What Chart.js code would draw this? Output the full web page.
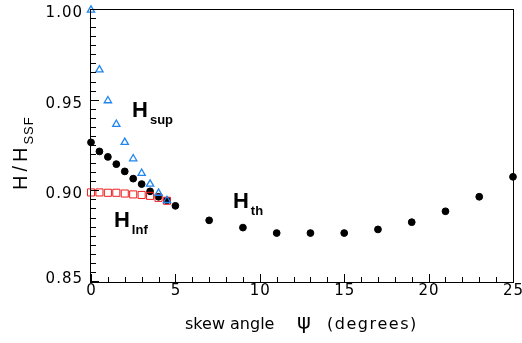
<!DOCTYPE html>
<html>
<head>
<meta charset="utf-8">
<script src="https://cdn.jsdelivr.net/npm/chart.js@4/dist/chart.umd.min.js"></script>
<style>
  html, body { margin: 0; padding: 0; background: #fff; }
  #wrap { position: relative; width: 522px; height: 343px; }
  #frame { position: absolute; border: 1px solid #000; box-sizing: border-box; pointer-events: none; }
</style>
</head>
<body>
<div id="wrap">
  <canvas id="chart" width="522" height="343"></canvas>
  <div id="frame"></div>
</div>
<script>
// skew angle (degrees) and H/H_SSF
const thAngles = [0, 0.5, 1, 1.5, 2, 2.5, 3, 3.5, 4, 4.5, 5, 7, 9, 11, 13, 15, 17, 19, 21, 23, 25];
const thValues = [0.927, 0.922, 0.919, 0.915, 0.911, 0.907, 0.904, 0.900, 0.897, 0.895, 0.892,
                  0.884, 0.880, 0.877, 0.877, 0.877, 0.879, 0.883, 0.889, 0.897, 0.908];
const supAngles = [0, 0.5, 1, 1.5, 2, 2.5, 3, 3.5, 4, 4.5];
const supValues = [1.000, 0.967, 0.950, 0.937, 0.927, 0.918, 0.910, 0.904, 0.899, 0.895];
const infAngles = [0, 0.5, 1, 1.5, 2, 2.5, 3, 3.5, 4, 4.5];
const infValues = [0.8994, 0.8994, 0.8992, 0.8992, 0.8988, 0.8983, 0.8980, 0.8975, 0.8964, 0.8948];
const xTicks = [0, 5, 10, 15, 20, 25];
const yTicks = [0.85, 0.90, 0.95, 1.00];
const xMinorStep = 1;
const yMinorStep = 0.005;

const toPoints = (xs, ys) => xs.map((x, i) => ({ x, y: ys[i] }));

function spacedWidth(ctx, str, gap) {
  let w = 0;
  for (const ch of str) w += ctx.measureText(ch).width + gap;
  return w - gap;
}
function spaced(ctx, str, x, y, gap) {
  for (const ch of str) {
    ctx.fillText(ch, x, y);
    x += ctx.measureText(ch).width + gap;
  }
  return x - gap;
}

const axesPlugin = {
  id: 'axesPlugin',
  afterDraw(chart) {
    const { ctx, chartArea: a, scales } = chart;
    const xs = scales.x, ys = scales.y;
    ctx.save();

    const L = Math.round(a.left), R = Math.round(a.right);
    const T = Math.round(a.top), B = Math.round(a.bottom);

    // box (canvas copy; the overlay div below draws it as well)
    ctx.fillStyle = '#000';
    ctx.fillRect(L - 1, T - 1, R - L + 2, 1);
    ctx.fillRect(L - 1, B, R - L + 2, 1);
    ctx.fillRect(L - 1, T - 1, 1, B - T + 2);
    ctx.fillRect(R, T - 1, 1, B - T + 2);

    // inward ticks, minor and major
    const nx = Math.round((xs.max - xs.min) / xMinorStep);
    for (let k = 0; k <= nx; k++) {
      const v = xs.min + k * xMinorStep;
      const px = Math.min(Math.round(xs.getPixelForValue(v)), R);
      const len = xTicks.some(t => Math.abs(t - v) < 1e-6) ? 8 : 5;
      ctx.fillRect(px, B - len, 1, len);
    }
    const ny = Math.round((ys.max - ys.min) / yMinorStep);
    for (let k = 0; k <= ny; k++) {
      const v = ys.min + k * yMinorStep;
      const py = Math.max(Math.round(ys.getPixelForValue(v)) - 1, T - 1);
      const len = yTicks.some(t => Math.abs(t - v) < 1e-6) ? 8 : 5;
      ctx.fillRect(L, py, len, 1);
    }

    // tick labels
    ctx.textBaseline = 'alphabetic';
    ctx.textAlign = 'left';
    ctx.font = '15px "DejaVu Sans", sans-serif';
    xTicks.forEach(v => {
      const s = String(v);
      const w = spacedWidth(ctx, s, 1);
      spaced(ctx, s, xs.getPixelForValue(v) - w / 2, a.bottom + 13, 1);
    });
    yTicks.forEach((v, i) => {
      const s = v.toFixed(2);
      const w = spacedWidth(ctx, s, 1);
      const lift = i === 0 ? 6 : 0;
      spaced(ctx, s, 82 - w, ys.getPixelForValue(v) + 7 - lift, 1);
    });

    // curve labels
    const label = (main, sub, xv, yv) => {
      const px = xs.getPixelForValue(xv), py = ys.getPixelForValue(yv);
      ctx.font = 'bold 22px "Liberation Sans", Arial, sans-serif';
      ctx.fillText(main, px, py);
      const w = ctx.measureText(main).width;
      ctx.font = 'bold 13px "Liberation Sans", Arial, sans-serif';
      ctx.fillText(sub, px + w + 2, py + 7);
    };
    label('H', 'sup', 2.43, 0.9411);
    label('H', 'Inf', 1.36, 0.8805);
    label('H', 'th', 8.41, 0.8908);

    // x axis title
    ctx.font = '16px "DejaVu Sans", sans-serif';
    ctx.fillText('skew angle', 185, 329);
    spaced(ctx, '(degrees)', 327, 329, 1.5);
    ctx.font = '21px "DejaVu Sans", sans-serif';
    ctx.fillText('\u03C8', 297, 329);

    // y axis title, rotated
    ctx.translate(27, 190);
    ctx.rotate(-Math.PI / 2);
    ctx.font = '20px "Liberation Sans", Arial, sans-serif';
    const end = spaced(ctx, 'H/H', 0, 0, 4);
    ctx.font = '13px "Liberation Sans", Arial, sans-serif';
    spaced(ctx, 'SSF', end + 3, 6, 1);
    ctx.restore();
  }
};

const chart = new Chart(document.getElementById('chart'), {
  type: 'scatter',
  data: {
    datasets: [
      {
        label: 'H_sup',
        data: toPoints(supAngles, supValues),
        pointStyle: 'triangle',
        radius: 4.2,
        borderColor: '#1f86f0',
        backgroundColor: 'rgba(0,0,0,0)',
        borderWidth: 1.3,
        order: 0
      },
      {
        label: 'H_inf',
        data: toPoints(infAngles, infValues),
        pointStyle: 'rect',
        radius: 5,
        borderColor: '#f01c1c',
        backgroundColor: 'rgba(0,0,0,0)',
        borderWidth: 1,
        order: 1
      },
      {
        label: 'H_th',
        data: toPoints(thAngles, thValues),
        pointStyle: 'circle',
        radius: 3.4,
        borderColor: '#000',
        backgroundColor: '#000',
        borderWidth: 1,
        order: 2
      }
    ]
  },
  options: {
    responsive: false,
    animation: false,
    clip: false,
    layout: { autoPadding: false, padding: { left: 0, top: 10, right: 9, bottom: 0 } },
    plugins: { legend: { display: false }, tooltip: { enabled: false } },
    scales: {
      x: {
        type: 'linear',
        min: 0,
        max: 25,
        grid: { display: false },
        border: { display: false },
        ticks: { display: false },
        afterFit: s => { s.height = 61; }
      },
      y: {
        type: 'linear',
        min: 0.85,
        max: 1.0,
        grid: { display: false },
        border: { display: false },
        ticks: { display: false },
        afterFit: s => { s.width = 91; }
      }
    }
  },
  plugins: [axesPlugin]
});

// plot box as an HTML overlay, placed from the chart's own plot area
const area = chart.chartArea;
const frame = document.getElementById('frame');
frame.style.left = (Math.round(area.left) - 1) + 'px';
frame.style.top = (Math.round(area.top) - 1) + 'px';
frame.style.width = (Math.round(area.right) - Math.round(area.left) + 2) + 'px';
frame.style.height = (Math.round(area.bottom) - Math.round(area.top) + 2) + 'px';
</script>
</body>
</html>
